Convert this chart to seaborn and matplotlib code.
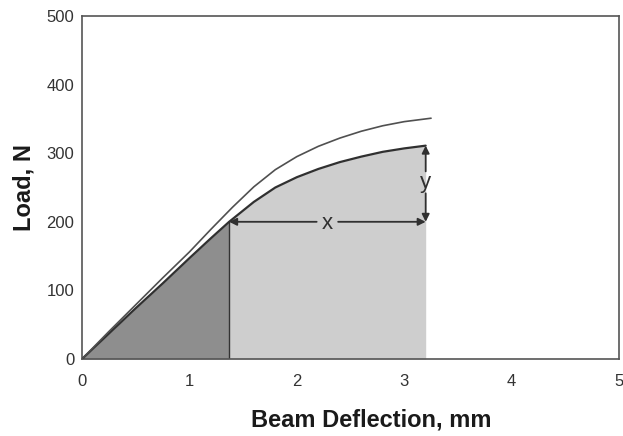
import numpy as np
import pandas as pd
import matplotlib
matplotlib.use('Agg')
import matplotlib.pyplot as plt
import seaborn as sns

# 上面那条曲线
upper_x = [0, 0.25, 0.5, 0.75, 1.0, 1.2, 1.4, 1.6, 1.8, 2.0, 2.2, 2.4, 2.6, 2.8, 3.0, 3.25]
upper_y = [0, 40, 79, 118, 156, 189, 221, 251, 276, 295, 310, 322, 332, 340, 346, 351]

# 下面那条曲线（阴影边界）
lower_x = [0, 0.25, 0.5, 0.75, 1.0, 1.2, 1.37, 1.6, 1.8, 2.0, 2.2, 2.4, 2.6, 2.8, 3.0, 3.2]
lower_y = [0, 37, 74, 110, 147, 176, 200, 229, 250, 265, 277, 287, 295, 302, 307, 311]

split_x = 1.37   # 深色/浅色分界
split_load = 200

x_ticks = [0, 1, 2, 3, 4, 5]
y_ticks = [0, 100, 200, 300, 400, 500]

sns.set_theme(style='white')
plt.rcParams['font.family'] = ['Liberation Sans', 'DejaVu Sans']

fig, ax = plt.subplots(figsize=(6.23, 4.36), dpi=100)
fig.subplots_adjust(left=0.1316, right=0.9936, top=0.9633, bottom=0.1766)

df_up = pd.DataFrame({'x': upper_x, 'y': upper_y})
df_lo = pd.DataFrame({'x': lower_x, 'y': lower_y})

lx = np.array(lower_x)
ly = np.array(lower_y)
ax.fill_between(lx, 0, ly, where=lx <= split_x, color='#8e8e8e', lw=0, zorder=1)
ax.fill_between(lx, 0, ly, where=lx >= split_x, color='#cecece', lw=0, zorder=1)
ax.plot([split_x, split_x], [0, split_load], color='#333333', lw=1.0, zorder=2)

sns.lineplot(data=df_lo, x='x', y='y', ax=ax, color='#303030', lw=1.6, sort=False, zorder=3)
sns.lineplot(data=df_up, x='x', y='y', ax=ax, color='#505050', lw=1.2, sort=False, zorder=3)

# x 箭头
end_x = lower_x[-1]
mid_x = (split_x + end_x) / 2
arr = dict(arrowstyle='-|>', color='#303030', lw=1.3, shrinkA=0, shrinkB=0, mutation_scale=11)
ax.annotate('', xy=(split_x, split_load), xytext=(mid_x - 0.1, split_load), arrowprops=arr, zorder=4)
ax.annotate('', xy=(end_x, split_load), xytext=(mid_x + 0.1, split_load), arrowprops=arr, zorder=4)
ax.text(mid_x, split_load - 2, 'x', ha='center', va='center', fontsize=16, color='#303030')

# y 箭头
end_y = lower_y[-1]
mid_y = (split_load + end_y) / 2
ax.annotate('', xy=(end_x, end_y), xytext=(end_x, mid_y + 18), arrowprops=arr, zorder=4)
ax.annotate('', xy=(end_x, split_load), xytext=(end_x, mid_y - 14), arrowprops=arr, zorder=4)
ax.text(end_x, mid_y + 2, 'y', ha='center', va='center', fontsize=16, color='#303030')

ax.set_xlim(0, 5)
ax.set_ylim(0, 500)
ax.set_xticks(x_ticks)
ax.set_yticks(y_ticks)
ax.tick_params(direction='inout', length=5, width=1, color='#555555',
               labelsize=12, labelcolor='#333333')
ax.tick_params(axis='x', pad=8)
ax.tick_params(axis='y', pad=3)
for s in ax.spines.values():
    s.set_color('#555555')
    s.set_linewidth(1.2)
    s.set_visible(True)

ax.set_xlabel('Beam Deflection, mm', fontsize=17, fontweight='bold', color='#1a1a1a')
ax.xaxis.set_label_coords(0.538, -0.145)
ax.set_ylabel('Load, N', fontsize=17, fontweight='bold', color='#1a1a1a', labelpad=8)

fig.savefig('out.png', dpi=100)
